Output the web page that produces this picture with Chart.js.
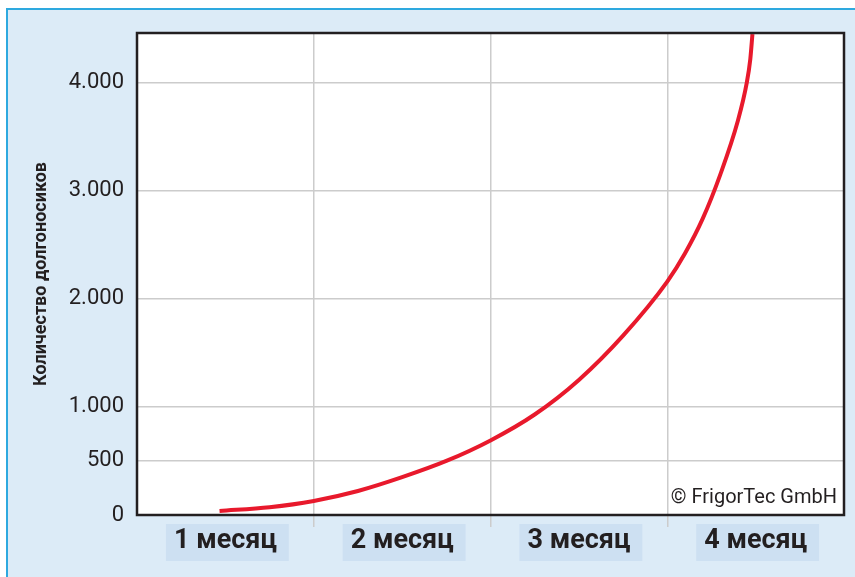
<!DOCTYPE html>
<html>
<head>
<meta charset="utf-8">
<script src="https://cdn.jsdelivr.net/npm/chart.js@4/dist/chart.umd.min.js"></script>
<style>
  html, body { margin: 0; padding: 0; background: #ffffff; }
  #frame { position: absolute; left: 6px; top: 8px; width: 849px; height: 569px;
           border-left: 2px solid #2ea9df; border-top: 2px solid #2ea9df; background: #dcebf7; }
  #wrap { position: absolute; left: 0; top: 0; width: 855px; height: 577px; }
</style>
</head>
<body>
<div id="frame"></div>
<div id="wrap"><canvas id="c" width="855" height="577"></canvas></div>
<script>
// ---- data ----
const monthLabels = ['1 месяц', '2 месяц', '3 месяц', '4 месяц'];
// position along the time axis, in months from the left edge of the plot
const curveMonths = [0.467, 0.75, 1.0, 1.25, 1.5, 1.75, 2.0, 2.25, 2.5, 2.75, 3.0, 3.1, 3.2, 3.3, 3.4, 3.45, 3.47, 3.482];
const curveCounts = [37, 72, 130, 222, 350, 500, 690, 930, 1250, 1660, 2160, 2420, 2740, 3150, 3650, 4000, 4220, 4450];
const yTickValues = [0, 500, 1000, 2000, 3000, 4000];
const yTitle = 'Количество долгоносиков';
const credit = '© FrigorTec GmbH';

const ink = '#231f20';
const gridCol = '#cccccc';

const points = curveMonths.map((m, i) => ({ x: m, y: curveCounts[i] }));

const framePlugin = {
  id: 'framePlugin',
  beforeDraw(chart) {
    const { ctx, chartArea: a } = chart;
    ctx.save();
    ctx.fillStyle = '#ffffff';
    ctx.fillRect(a.left, a.top, a.right - a.left, a.bottom - a.top);
    ctx.restore();
  },
  afterDraw(chart) {
    const { ctx, chartArea: a } = chart;
    ctx.save();
    ctx.strokeStyle = ink;
    ctx.lineWidth = 2.5;
    ctx.strokeRect(a.left, a.top, a.right - a.left, a.bottom - a.top);
    ctx.fillStyle = ink;
    ctx.font = '20px Roboto';
    ctx.textAlign = 'right';
    ctx.textBaseline = 'alphabetic';
    ctx.fillText(credit, a.right - 7, a.bottom - 12);
    ctx.restore();
  }
};

new Chart(document.getElementById('c'), {
  type: 'line',
  data: {
    labels: monthLabels,
    datasets: [{
      data: points,
      xAxisID: 'x2',
      borderColor: '#e8192c',
      borderWidth: 4,
      pointRadius: 0,
      cubicInterpolationMode: 'monotone',
      fill: false
    }]
  },
  options: {
    responsive: false,
    animation: false,
    layout: { padding: { top: 33, right: 11, bottom: 0, left: 0 } },
    plugins: { legend: { display: false }, tooltip: { enabled: false } },
    scales: {
      x: {
        type: 'category',
        offset: true,
        border: { display: false },
        grid: {
          offset: true,
          drawTicks: true,
          tickLength: 12,
          lineWidth: 1.5,
          color: (c) => (c.type !== 'tick' || c.index === 0) ? 'rgba(0,0,0,0)' : gridCol
        },
        ticks: {
          color: ink,
          font: { family: 'Roboto', weight: 'bold', size: 27, lineHeight: 1.0 },
          padding: 1,
          showLabelBackdrop: true,
          backdropColor: '#cde0f2',
          backdropPadding: { top: 4, bottom: 6, left: 8, right: 12 },
          maxRotation: 0
        },
        afterFit(s) { s.height = 62; }
      },
      x2: {
        type: 'linear',
        display: false,
        min: 0,
        max: monthLabels.length
      },
      y: {
        type: 'linear',
        min: 0,
        max: 4460,
        border: { display: false },
        afterBuildTicks(s) { s.ticks = yTickValues.map(v => ({ value: v })); },
        grid: {
          drawTicks: false,
          lineWidth: 1.5,
          color: gridCol
        },
        ticks: {
          color: ink,
          font: { family: 'Roboto', size: 22 },
          padding: 13,
          callback: (v) => v.toLocaleString('de-DE')
        },
        title: {
          display: true,
          text: yTitle,
          color: ink,
          font: { family: 'Roboto', weight: 'bold', size: 18 },
          padding: { top: 31, bottom: 0 }
        },
        afterFit(s) { s.width = 137; }
      }
    }
  },
  plugins: [framePlugin]
});
</script>
</body>
</html>
